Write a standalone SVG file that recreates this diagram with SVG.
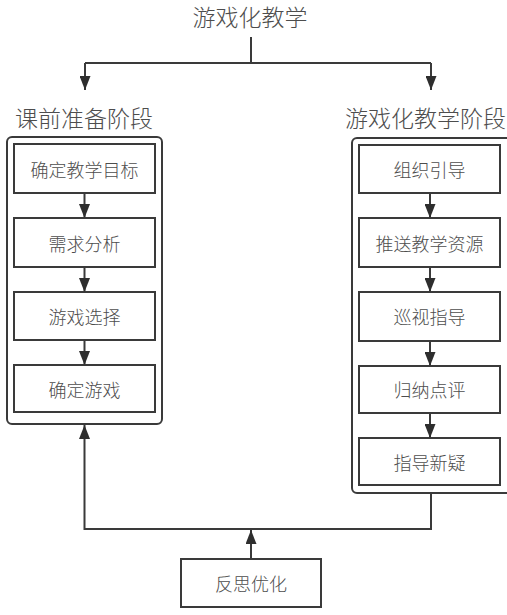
<svg xmlns="http://www.w3.org/2000/svg" width="507" height="615" viewBox="0 0 507 615">
<style>
text{font-family:"Noto Sans CJK SC","Noto Sans",sans-serif;fill:#4d4d4d;text-anchor:middle;dominant-baseline:central;font-weight:300}
.t{font-size:23px}
.b{font-size:18px}
.box{fill:#fff;stroke:#3a3a3a;stroke-width:2}
.outer{fill:#fff;stroke:#3a3a3a;stroke-width:2}
.ln{fill:none;stroke:#3a3a3a;stroke-width:2}
</style>
<defs>
<marker id="ah" viewBox="0 0 14 11" refX="14" refY="5.5" markerWidth="14" markerHeight="11" markerUnits="userSpaceOnUse" orient="auto">
<path d="M0,0 L14,5.5 L0,11 Z" fill="#2e2e2e"/>
</marker>
</defs>
<g id="title"><text class="t" x="250" y="16">游戏化教学</text></g>
<g id="pre-stage">
<text class="t" x="84" y="117">课前准备阶段</text>
<rect class="outer" x="7" y="137" width="155" height="287" rx="5"/>
</g>
<g id="game-stage">
<text class="t" x="425.5" y="117">游戏化教学阶段</text>
<rect class="outer" x="352" y="138" width="160" height="355" rx="5"/>
</g>
<g id="n1"><rect class="box" x="14" y="144" width="141" height="49"/><text class="b" x="84.5" y="169">确定教学目标</text></g>
<g id="n2"><rect class="box" x="14" y="218" width="141" height="49"/><text class="b" x="84.5" y="243">需求分析</text></g>
<g id="n3"><rect class="box" x="14" y="292" width="141" height="48"/><text class="b" x="84.5" y="316">游戏选择</text></g>
<g id="n4"><rect class="box" x="14" y="365" width="141" height="47"/><text class="b" x="84.5" y="389">确定游戏</text></g>
<g id="m1"><rect class="box" x="359" y="145" width="141" height="48"/><text class="b" x="429.5" y="169">组织引导</text></g>
<g id="m2"><rect class="box" x="359" y="218" width="141" height="49"/><text class="b" x="429.5" y="243">推送教学资源</text></g>
<g id="m3"><rect class="box" x="359" y="292" width="141" height="49"/><text class="b" x="429.5" y="316">巡视指导</text></g>
<g id="m4"><rect class="box" x="359" y="366" width="141" height="47"/><text class="b" x="429.5" y="389">归纳点评</text></g>
<g id="m5"><rect class="box" x="359" y="438" width="141" height="47"/><text class="b" x="429.5" y="462">指导新疑</text></g>
<g id="reflect"><rect class="box" x="181" y="559" width="140" height="48"/><text class="b" x="251" y="583">反思优化</text></g>
<g id="connectors">
<path class="ln" d="M251,37 V63 M85,63 H431"/>
<path class="ln" d="M85,63 V90" marker-end="url(#ah)"/>
<path class="ln" d="M431,63 V90" marker-end="url(#ah)"/>
<path class="ln" d="M84.5,193 V218" marker-end="url(#ah)"/>
<path class="ln" d="M84.5,267 V292" marker-end="url(#ah)"/>
<path class="ln" d="M84.5,340 V365" marker-end="url(#ah)"/>
<path class="ln" d="M430,193 V218" marker-end="url(#ah)"/>
<path class="ln" d="M430,267 V292" marker-end="url(#ah)"/>
<path class="ln" d="M430,341 V366" marker-end="url(#ah)"/>
<path class="ln" d="M430,413 V438" marker-end="url(#ah)"/>
<path class="ln" d="M431,493 V529 H84.5 V425" marker-end="url(#ah)"/>
<path class="ln" d="M251,559 V530" marker-end="url(#ah)"/>
</g>
</svg>
